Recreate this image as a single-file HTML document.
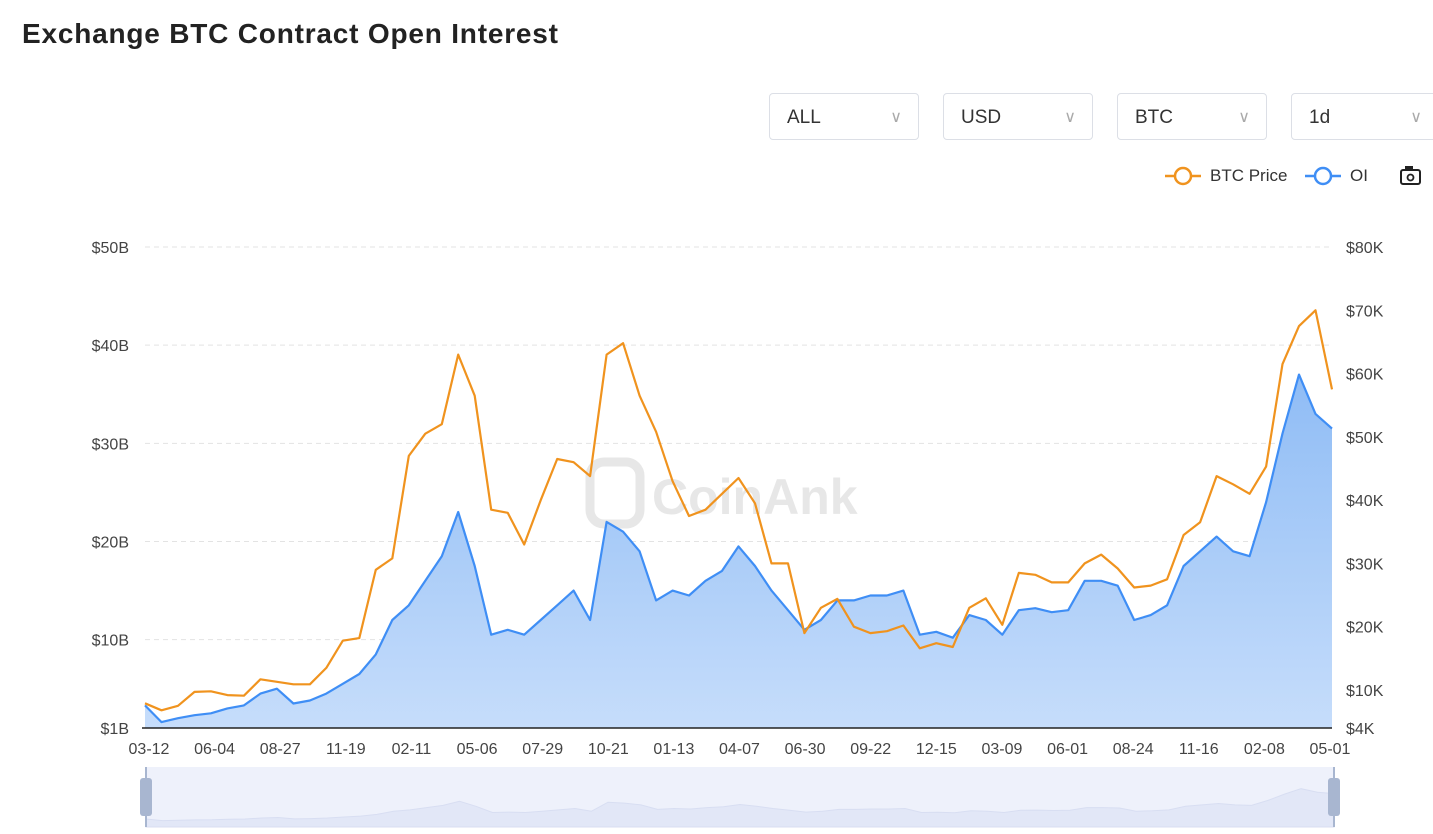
<!DOCTYPE html>
<html><head><meta charset="utf-8">
<style>
body{margin:0;width:1433px;height:834px;overflow:hidden;background:#fff;font-family:"Liberation Sans",sans-serif;position:relative}
.title{position:absolute;left:22px;top:18px;font-size:28px;color:#222;font-weight:600;letter-spacing:0.8px}
.sel{position:absolute;top:93px;width:150px;height:47px;border:1px solid #dcdfe6;border-radius:4px;box-sizing:border-box;font-size:19px;color:#333;line-height:47px;padding-left:17px}
.sel span{position:absolute;right:16px;top:0;color:#aaa;font-size:16px}
</style></head><body>
<div class="title">Exchange BTC Contract Open Interest</div>
<div class="sel" style="left:769px">ALL<span>∨</span></div>
<div class="sel" style="left:943px">USD<span>∨</span></div>
<div class="sel" style="left:1117px">BTC<span>∨</span></div>
<div class="sel" style="left:1291px;width:160px">1d<span style="right:28px">∨</span></div>
<svg id="chart" width="1433" height="834" style="position:absolute;left:0;top:0">
<defs>
<linearGradient id="g" x1="0" y1="0" x2="0" y2="1"><stop offset="0" stop-color="#8fbcf5"/><stop offset="1" stop-color="#c6ddfb"/></linearGradient>
</defs>
<g>
<g><line x1="1165" y1="176" x2="1201" y2="176" stroke="#f0931e" stroke-width="2.5"/><circle cx="1183" cy="176" r="8" fill="#fff" stroke="#f0931e" stroke-width="2.5"/><text x="1210" y="181" font-size="17" fill="#333">BTC Price</text></g>
<g><line x1="1305" y1="176" x2="1341" y2="176" stroke="#3f8ef5" stroke-width="2.5"/><circle cx="1323" cy="176" r="8" fill="#fff" stroke="#3f8ef5" stroke-width="2.5"/><text x="1350" y="181" font-size="17" fill="#333">OI</text></g>
</g>
<g><rect x="1401" y="170" width="19" height="14" rx="2" fill="none" stroke="#222" stroke-width="2"/><rect x="1405" y="166" width="8" height="4" fill="#222"/><circle cx="1410.5" cy="177.5" r="3" fill="none" stroke="#222" stroke-width="1.8"/></g>
<g opacity="0.35">
<rect x="590" y="462" width="50" height="62" rx="14" fill="none" stroke="#bbb" stroke-width="9"/>
<text x="652" y="514" font-size="50" font-weight="bold" fill="#bbb">CoinAnk</text>
</g>
<g id="grid"></g><g id="marks"></g><g id="axes"></g>
<g>
<rect x="146" y="767" width="1188" height="60" fill="#eef1fb"/>
<path id="mini" fill="#e2e7f7" stroke="#d8def2"/>
<line x1="146" y1="767" x2="146" y2="827" stroke="#a8b6d0" stroke-width="2"/>
<line x1="1334" y1="767" x2="1334" y2="827" stroke="#a8b6d0" stroke-width="2"/>
<rect x="140" y="778" width="12" height="38" rx="3" fill="#a8b6d0"/>
<rect x="1328" y="778" width="12" height="38" rx="3" fill="#a8b6d0"/>
</g>
</svg>
<script>
const xLabels=["03-12","06-04","08-27","11-19","02-11","05-06","07-29","10-21","01-13","04-07","06-30","09-22","12-15","03-09","06-01","08-24","11-16","02-08","05-01"];
const leftTicks=[1,10,20,30,40,50];
const rightTicks=[4,10,20,30,40,50,60,70,80];
const price=[7.9,6.8,7.5,9.7,9.8,9.2,9.1,11.7,11.3,10.9,10.9,13.5,17.8,18.2,29.0,30.8,47.0,50.5,52.0,63.0,56.5,38.5,38.0,33.0,40.0,46.5,46.0,43.8,63.0,64.8,56.5,50.8,43.0,37.5,38.5,41.0,43.5,39.5,30.0,30.0,19.0,23.0,24.4,20.0,19.0,19.3,20.2,16.6,17.4,16.8,23.0,24.5,20.3,28.5,28.2,27.0,27.0,30.0,31.4,29.2,26.2,26.5,27.5,34.5,36.5,43.8,42.5,41.0,45.3,61.5,67.5,70.0,57.5];
const oi=[3.3,1.6,2.0,2.3,2.5,3.0,3.3,4.5,5.0,3.5,3.8,4.5,5.5,6.5,8.5,12.0,13.5,16.0,18.5,23.0,17.5,10.5,11.0,10.5,12.0,13.5,15.0,12.0,22.0,21.0,19.0,14.0,15.0,14.5,16.0,17.0,19.5,17.5,15.0,13.0,11.0,12.0,14.0,14.0,14.5,14.5,15.0,10.5,10.8,10.2,12.5,12.0,10.5,13.0,13.2,12.8,13.0,16.0,16.0,15.5,12.0,12.5,13.5,17.5,19.0,20.5,19.0,18.5,24.0,31.0,37.0,33.0,31.5];
const X0=145,X1=1332,Y0=728,Y1=247;
const n=price.length;
const xs=i=>X0+(X1-X0)*i/(n-1);
const xl=i=>149+(1330-149)*i/(xLabels.length-1);
const yl=v=>Y0-(v-1)/(50-1)*(Y0-Y1);
const yr=v=>Y0-(v-4)/(80-4)*(Y0-Y1);
const NS="http://www.w3.org/2000/svg";
function mk(t,a,p){const e=document.createElementNS(NS,t);for(const k in a)e.setAttribute(k,a[k]);p.appendChild(e);return e;}
const grid=document.getElementById('grid'),marks=document.getElementById('marks'),axes=document.getElementById('axes');
leftTicks.forEach(v=>{if(v>1){const l=mk('line',{x1:X0,x2:X1,y1:yl(v),y2:yl(v),stroke:'#e3e3e3','stroke-dasharray':'5,4'},grid);

}
const t=mk('text',{x:129,y:yl(v)+6,'text-anchor':'end','font-size':16,fill:'#444'},axes);t.textContent='$'+v+'B';

});
rightTicks.forEach(v=>{const t=mk('text',{x:1346,y:yr(v)+6,'font-size':16,fill:'#444'},axes);t.textContent='$'+v+'K';

});
xLabels.forEach((s,i)=>{const t=mk('text',{x:xl(i),y:754,'text-anchor':'middle','font-size':16,fill:'#444'},axes);t.textContent=s;

});
let line=oi.map((v,i)=>(i?'L':'M')+xs(i).toFixed(1)+','+yl(v).toFixed(1)).join('');
const area=mk('path',{d:line+`L${X1},${Y0}L${X0},${Y0}Z`,fill:'url(#g)'},marks);


const ol=mk('path',{d:line,fill:'none',stroke:'#3f8ef5','stroke-width':2.2,'stroke-linejoin':'round'},marks);


const pl=mk('path',{d:price.map((v,i)=>(i?'L':'M')+xs(i).toFixed(1)+','+yr(v).toFixed(1)).join(''),fill:'none',stroke:'#f0931e','stroke-width':2.2,'stroke-linejoin':'round'},marks);


const ax=mk('line',{x1:X0-3,x2:X1,y1:Y0,y2:Y0,stroke:'#222','stroke-width':1.5},axes);


const mx=i=>146+1188*i/(n-1),my=v=>822-v*0.9;
document.getElementById('mini').setAttribute('d',oi.map((v,i)=>(i?'L':'M')+mx(i).toFixed(1)+','+my(v).toFixed(1)).join('')+'L1334,827L146,827Z');
</script>
</body></html>
